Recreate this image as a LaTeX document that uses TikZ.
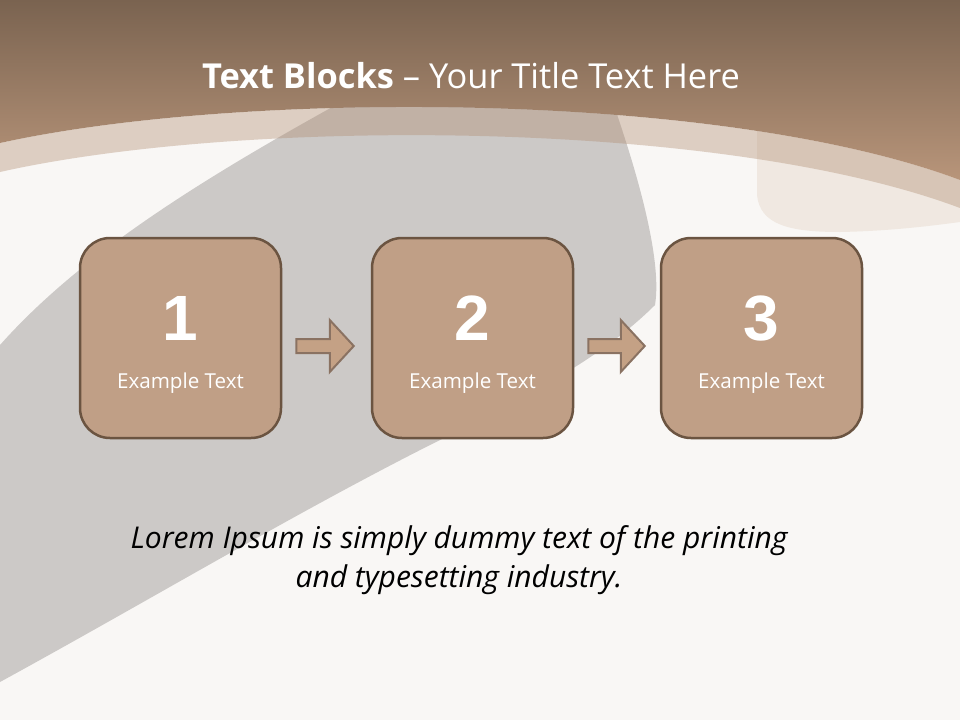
\documentclass[tikz,border=0pt]{standalone}
\usepackage{fontspec}
\setmainfont{Open Sans}
\newfontfamily\numfont{Liberation Sans}
\usetikzlibrary{calc}
\definecolor{bgc}{HTML}{F9F7F5}
\definecolor{hdtop}{HTML}{7A6350}
\definecolor{hdbot}{HTML}{B8957A}
\definecolor{bandc}{HTML}{B08C70}
\definecolor{strokec}{HTML}{CCC9C7}
\definecolor{beigec}{HTML}{F0E8E1}
\definecolor{boxfill}{HTML}{C09F86}
\definecolor{boxline}{HTML}{6B5441}
\definecolor{arrfill}{HTML}{C4A185}
\definecolor{arrline}{HTML}{8A7262}
\tikzset{
  stepbox/.style={draw=boxline, fill=boxfill, line width=2.5pt, rounded corners=30pt,
    minimum width=201pt, minimum height=200pt, inner sep=0pt},
  numtext/.style={text=white, font=\numfont\bfseries\fontsize{64}{70}\selectfont, anchor=base, inner sep=0pt},
  lbltext/.style={text=white, font=\fontsize{20.6}{24}\selectfont, anchor=base, inner sep=0pt},
  blockarrow/.style={draw=arrline, fill=arrfill, line width=2pt, line join=miter},
  bodytext/.style={text=black, font=\itshape\fontsize{30}{36}\selectfont, anchor=base, inner sep=0pt}
}
\begin{document}
\begin{tikzpicture}[x=1pt,y=-1pt]
\useasboundingbox (0,0) rectangle (960,720);
\fill[bgc] (0,0) rectangle (960,720);
% beige shape right
\fill[beigec] (757,100) -- (757,195) .. controls (760,225) and (790,232) .. (840,232)
  .. controls (890,231) and (930,226) .. (960,222) -- (960,100) -- cycle;
% grey brush stroke
\fill[strokec] (0,345) .. controls (80,255) and (200,180) .. (345,100) -- (612,100)
  .. controls (640,180) and (662,262) .. (655,305)
  .. controls (600,360) and (520,400) .. (440,440)
  .. controls (300,510) and (150,600) .. (0,682) -- cycle;
% translucent band
\fill[bandc, opacity=0.38] (0,143) .. controls (240,90) and (720,90) .. (960,180)
  -- (960,208) .. controls (720,118) and (240,118) .. (0,172) -- cycle;
% header
\shade[top color=hdtop, bottom color=hdbot] (0,0) -- (960,0) -- (960,180)
  .. controls (720,90) and (240,90) .. (0,143) -- cycle;
% title
\node[text=white, font=\fontsize{34.4}{40}\selectfont, anchor=base, inner sep=0pt] (title) at (471,88)
  {\textbf{Text Blocks} – Your Title Text Here};
% boxes
\node[stepbox] (b1) at (180.5,338) {};
\node[stepbox] (b2) at (472.5,338) {};
\node[stepbox] (b3) at (761.5,338) {};
\foreach \b/\n in {b1/1,b2/2,b3/3}{
  \node[numtext] (\b n) at ($(\b.center)+(0,2)$) {\n};
  \node[lbltext] (\b t) at ($(\b.center)+(0,50)$) {Example Text};
}
% block arrows
\coordinate (a1s) at ($(b1.east)+(14,8)$);
\coordinate (a1t) at ($(b2.west)+(-17,8)$);
\coordinate (a2s) at ($(b2.east)+(14,8)$);
\coordinate (a2t) at ($(b3.west)+(-15,8)$);
\foreach \s/\t in {a1s/a1t,a2s/a2t}{
  \draw[blockarrow] ($(\s)+(0,-7)$) -- ($(\t)+(-24,-7)$) -- ($(\t)+(-24,-26)$) -- (\t)
    -- ($(\t)+(-24,26)$) -- ($(\t)+(-24,7)$) -- ($(\s)+(0,7)$) -- cycle;
}
% body text
\node[bodytext] (l1) at (459,548) {Lorem Ipsum is simply dummy text of the printing};
\node[bodytext] (l2) at (459,587) {and typesetting industry.};
\end{tikzpicture}
\end{document}
